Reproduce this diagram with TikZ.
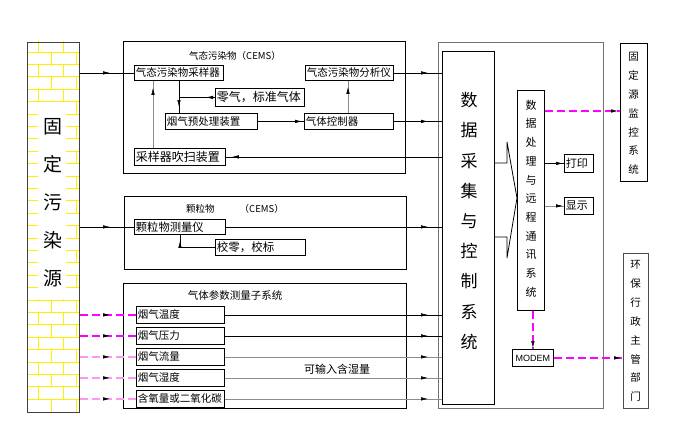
\documentclass[tikz,border=0pt]{standalone}
\usepackage{fontspec}
\newfontfamily\cjk{Noto Sans CJK SC}
\newfontfamily\lat{Liberation Sans}
\usetikzlibrary{arrows.meta,decorations.markings,calc}
\definecolor{brick}{RGB}{255,240,0}
\definecolor{pinkA}{RGB}{255,0,255}
\definecolor{pinkB}{RGB}{255,150,240}
\definecolor{lgray}{RGB}{140,140,140}
\begin{document}
\begin{tikzpicture}[x=1pt,y=-1pt,line width=0.8pt,
  bx/.style={draw, inner xsep=1.5pt, inner ysep=0pt, anchor=north west, align=left, font=\cjk\fontsize{10.5}{12}\selectfont},
  vbox/.style={draw, inner sep=0pt, anchor=north west},
  vtxt/.style={align=center, inner sep=0pt},
  ttl/.style={inner sep=0pt, font=\cjk\fontsize{10}{12}\selectfont},
  ln/.style={color=black},
  gln/.style={color=lgray},
  pkA/.style={color=pinkA, line width=1.4pt, dash pattern=on 8pt off 4pt},
  pkB/.style={color=pinkB, line width=2pt, dash pattern=on 8pt off 4pt},
  mk/.style={decorate,decoration={markings,mark=at position #1 with {\arrow[line width=0.6pt]{Latex[length=7pt,width=3.5pt]}}}},
  brk/.style={color=brick, line width=0.9pt}]
\useasboundingbox (0,0) rectangle (679,428);

% ---------- source column with brick pattern ----------
\begin{scope}
\clip (27,42) rectangle (79,412);
\foreach \k in {0,...,28} \draw[brk] (27,52+12.4*\k) -- (79,52+12.4*\k);
\foreach \r in {0,...,29} {
  \pgfmathsetmacro\yt{39.6+12.4*\r}
  \pgfmathsetmacro\yb{52+12.4*\r}
  \ifodd\r
    \draw[brk] (51,\yt) -- (51,\yb) (76.5,\yt) -- (76.5,\yb);
  \else
    \draw[brk] (38,\yt) -- (38,\yb) (63.5,\yt) -- (63.5,\yb);
  \fi
}
\fill[white] (38,102.4) rectangle (65.8,299.2);
\end{scope}
\node[vbox, draw=black!75, minimum width=52pt, minimum height=370pt] (src) at (27,42) {};
\node[vtxt, font=\cjk\fontsize{19}{38}\selectfont] (srct) at (53,203) {固\\定\\污\\染\\源};

% ---------- gaseous pollutant block ----------
\node[vbox, minimum width=282pt, minimum height=132pt] (gasbox) at (123,41) {};
\node[ttl, font=\cjk\fontsize{9.5}{12}\selectfont] (t1) at (235,56) {气态污染物（CEMS）};
\node[bx, text width=86pt, minimum height=15pt] (s1) at (134,65) {气态污染物采样器};
\node[bx, text width=85pt, minimum height=15pt] (an) at (305,65) {气态污染物分析仪};
\node[bx, text width=86pt, minimum height=18pt, font=\cjk\fontsize{12}{14}\selectfont] (zg) at (215,88) {零气，标准气体};
\node[bx, text width=89pt, minimum height=16pt] (pre) at (165,113) {烟气预处理装置};
\node[bx, text width=86pt, minimum height=16pt] (ctl) at (304,113) {气体控制器};
\node[bx, text width=88pt, minimum height=17pt, font=\cjk\fontsize{12}{14}\selectfont] (pur) at (134,148) {采样器吹扫装置};

% ---------- particulate block ----------
\node[vbox, minimum width=282pt, minimum height=73pt] (partbox) at (124,196) {};
\node[ttl, font=\cjk\fontsize{9.5}{12}\selectfont] (t2) at (235,209) {颗粒物\hspace{25pt}（CEMS）};
\node[bx, text width=88pt, minimum height=15pt, font=\cjk\fontsize{11.3}{13}\selectfont] (pm) at (134,219) {颗粒物测量仪};
\node[bx, text width=87pt, minimum height=16pt, font=\cjk\fontsize{11.5}{13}\selectfont] (cal) at (215,239) {校零，校标};

% ---------- gas parameter block ----------
\node[vbox, minimum width=283pt, minimum height=125pt] (parbox) at (123,283) {};
\node[ttl, font=\cjk\fontsize{10.5}{12}\selectfont] (t3) at (235,295) {气体参数测量子系统};
\node[bx, text width=85pt, minimum height=17pt] (p1) at (136,306) {烟气温度};
\node[bx, text width=85pt, minimum height=17pt] (p2) at (136,327) {烟气压力};
\node[bx, text width=85pt, minimum height=17pt] (p3) at (136,348) {烟气流量};
\node[bx, text width=85pt, minimum height=17pt] (p4) at (136,369) {烟气湿度};
\node[bx, text width=85pt, minimum height=17pt] (p5) at (136,390) {含氧量或二氧化碳};
\node[ttl, font=\cjk\fontsize{11}{13}\selectfont] (t4) at (337,369) {可输入含湿量};

% ---------- data system ----------
\node[vbox, draw=black!55, minimum width=165pt, minimum height=366pt] (daqouter) at (438,42) {};
\node[vbox, minimum width=52pt, minimum height=353pt] (daq) at (442,51) {};
\node[vtxt, font=\cjk\fontsize{17}{30.2}\selectfont] (daqt) at (469,221) {数\\据\\采\\集\\与\\控\\制\\系\\统};
\node[vbox, minimum width=27pt, minimum height=220pt] (proc) at (517,90) {};
\node[vtxt, font=\cjk\fontsize{11}{18.7}\selectfont] (proct) at (531,198.5) {数\\据\\处\\理\\与\\远\\程\\通\\讯\\系\\统};
\node[bx, text width=26pt, minimum height=18pt, font=\cjk\fontsize{11}{13}\selectfont] (prn) at (564,154) {打印};
\node[bx, text width=26pt, minimum height=17pt, font=\cjk\fontsize{11}{13}\selectfont] (dsp) at (564,197) {显示};
\node[vbox, minimum width=41pt, minimum height=17pt, font=\lat\fontsize{9}{11}\selectfont] (modem) at (512,349) {MODEM};

% ---------- right-hand receivers ----------
\node[vbox, minimum width=27pt, minimum height=138pt] (fix) at (620,43) {};
\node[vtxt, font=\cjk\fontsize{10.5}{18.8}\selectfont] (fixt) at (633.5,113.5) {固\\定\\源\\监\\控\\系\\统};
\node[vbox, draw=black!70, minimum width=25pt, minimum height=155pt] (epa) at (623,253) {};
\node[vtxt, font=\cjk\fontsize{10.5}{18.9}\selectfont] (epat) at (635.5,331) {环\\保\\行\\政\\主\\管\\部\\门};

% ---------- helper coordinates ----------
\coordinate (v1) at (179,0);
\coordinate (v2) at (348,0);
\coordinate (v3) at (153,0);
\coordinate (v4) at (180,0);
\coordinate (h1) at (0,111);
\coordinate (f1) at (0,163);
\coordinate (f2) at (0,237);
\coordinate (fa) at (507,142);
\coordinate (fb) at (507,258);

% ---------- connectors: source to instruments ----------
\draw[ln] (src.east |- s1.west) -- (s1.west);
\draw[ln] (src.east |- pm.west) -- (pm.west);
\draw[pkA] (src.east |- p1.west) -- (p1.west);
\draw[pkA] (src.east |- p2.west) -- (p2.west);
\draw[pkB] (src.east |- p3.west) -- (p3.west);
\draw[pkB] (src.east |- p4.west) -- (p4.west);
\draw[pkB] (src.east |- p5.west) -- (p5.west);

% ---------- connectors inside gaseous block ----------
\draw[ln] (s1.south -| v1) -- (pre.north -| v1);
\draw[ln] (zg.west) -- (zg.west -| v1);
\draw[ln] (pre.east) -- (ctl.west);
\draw[gln] (ctl.north -| v2) -- (an.south -| v2);
\draw[gln] (pur.north -| v3) -- (s1.south -| v3);
\draw[ln] (daq.west |- pur.east) -- (pur.east);
\draw[ln] (cal.west) -- (cal.west -| v4) -- (pm.south -| v4);

% ---------- connectors to data acquisition ----------
\draw[ln] (an.east) -- (daq.west |- an.east);
\draw[ln] (ctl.east) -- (daq.west |- ctl.east);
\draw[ln] (pm.east) -- (daq.west |- pm.east);
\draw[ln] (p1.east) -- (daq.west |- p1.east);
\draw[ln] (p2.east) -- (daq.west |- p2.east);
\draw[gln] (p3.east) -- (daq.west |- p3.east);
\draw[gln] (p4.east) -- (daq.west |- p4.east);
\draw[gln] (p5.east) -- (daq.west |- p5.east);

% ---------- funnel from acquisition to processing ----------
\draw[ln] (daq.east |- f1) -- (fa |- f1) -- (fa) -- (proc.west |- 0,198) -- (fb) -- (fb |- f2) -- (daq.east |- f2);

% ---------- processing outputs ----------
\draw[ln] (proc.east |- prn.west) -- (prn.west);
\draw[gln] (proc.east |- dsp.west) -- (dsp.west);
\draw[pkA] (proc.east |- h1) -- (fix.west |- h1);
\draw[pkA] (proc.south -| modem.north) -- (modem.north);
\draw[pkA] (modem.east) -- (epa.west |- modem.east);

% ---------- arrow marks on the connectors (black) ----------
\path[mk=-24pt] (src.east |- s1.west) -- (s1.west);
\path[mk=-24pt] (src.east |- pm.west) -- (pm.west);
\path[mk=-26pt] (src.east |- p1.west) -- (p1.west);
\path[mk=-26pt] (src.east |- p2.west) -- (p2.west);
\path[mk=-26pt] (src.east |- p3.west) -- (p3.west);
\path[mk=-26pt] (src.east |- p4.west) -- (p4.west);
\path[mk=-26pt] (src.east |- p5.west) -- (p5.west);
\path[mk=-6pt] (s1.south -| v1) -- (pre.north -| v1);
\path[mk=9pt] (zg.west) -- (zg.west -| v1);
\path[mk=-2pt] (pre.east) -- (ctl.west);
\path[mk=-6pt] (ctl.north -| v2) -- (an.south -| v2);
\path[mk=-7pt] (pur.north -| v3) -- (s1.south -| v3);
\path[mk=-6pt] (daq.west |- pur.east) -- (pur.east);
\path[mk=-6pt] (cal.west -| v4) -- (pm.south -| v4);
\path[mk=-14pt] (an.east) -- (daq.west |- an.east);
\path[mk=-14pt] (ctl.east) -- (daq.west |- ctl.east);
\path[mk=-14pt] (pm.east) -- (daq.west |- pm.east);
\path[mk=-14pt] (p1.east) -- (daq.west |- p1.east);
\path[mk=-14pt] (p2.east) -- (daq.west |- p2.east);
\path[mk=-14pt] (p3.east) -- (daq.west |- p3.east);
\path[mk=-14pt] (p4.east) -- (daq.west |- p4.east);
\path[mk=-14pt] (p5.east) -- (daq.west |- p5.east);
\path[mk=-1pt] (proc.east |- prn.west) -- (prn.west);
\path[mk=-1pt] (proc.east |- dsp.west) -- (dsp.west);
\path[mk=-2pt] (proc.east |- h1) -- (fix.west |- h1);
\path[mk=-1pt] (proc.south -| modem.north) -- (modem.north);
\path[mk=-2pt] (modem.east) -- (epa.west |- modem.east);
\end{tikzpicture}
\end{document}
